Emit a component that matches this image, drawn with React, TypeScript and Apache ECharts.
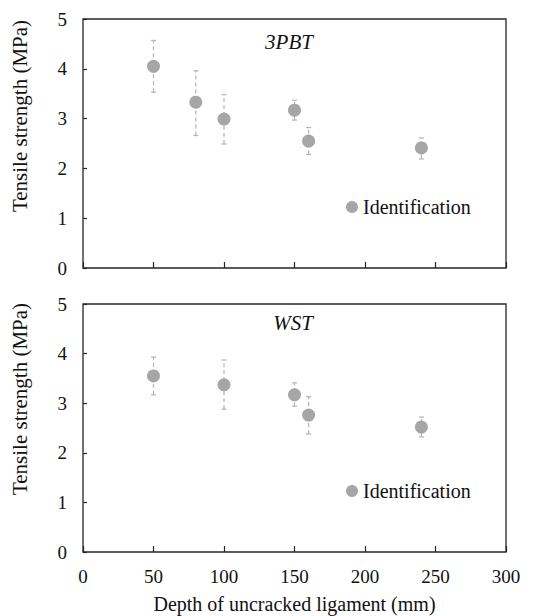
import React, { useEffect, useRef } from "react";
import * as echarts from "echarts";

// Panel 1: 3PBT
const depth3PBT = [50, 80, 100, 150, 160, 240];
const mean3PBT = [4.05, 3.33, 2.99, 3.17, 2.55, 2.41];
const low3PBT = [3.53, 2.66, 2.49, 2.97, 2.28, 2.19];
const high3PBT = [4.57, 3.96, 3.48, 3.37, 2.82, 2.61];

// Panel 2: WST
const depthWST = [50, 100, 150, 160, 240];
const meanWST = [3.55, 3.37, 3.17, 2.76, 2.52];
const lowWST = [3.17, 2.88, 2.94, 2.38, 2.32];
const highWST = [3.93, 3.87, 3.41, 3.13, 2.72];

const xTicks = [0, 50, 100, 150, 200, 250, 300];
const panelLabels = ["3PBT", "WST"];
const seriesName = "Identification";
const xTitle = "Depth of uncracked ligament (mm)";
const yTitle = "Tensile strength (MPa)";

const FONT = "'Liberation Serif', Tinos, 'Times New Roman', 'DejaVu Serif', serif";
const MARK = "#a6a6a6";
const ERR = "#b3b3b3";
const FRAME = "#262626";

function errData(x: number[], lo: number[], hi: number[]) {
  return x.map((v, i) => [v, lo[i], hi[i]]);
}

const renderErr = (params: any, api: any) => {
  const x = api.value(0);
  const lo = api.coord([x, api.value(1)]);
  const hi = api.coord([x, api.value(2)]);
  const style = { stroke: ERR, lineWidth: 1.2, lineDash: [4, 3] };
  const cap = 2.5;
  return {
    type: "group",
    children: [
      { type: "line", shape: { x1: lo[0], y1: lo[1], x2: hi[0], y2: hi[1] }, style },
      { type: "line", shape: { x1: hi[0] - cap, y1: hi[1], x2: hi[0] + cap, y2: hi[1] }, style: { stroke: ERR, lineWidth: 1.2 } },
      { type: "line", shape: { x1: lo[0] - cap, y1: lo[1], x2: lo[0] + cap, y2: lo[1] }, style: { stroke: ERR, lineWidth: 1.2 } },
    ],
  };
};

export default function App() {
  const ref = useRef<HTMLDivElement>(null);
  useEffect(() => {
    document.body.style.margin = "0";
    const chart = echarts.init(ref.current!, null, { renderer: "svg" });
    const grids = [
      { left: 83, top: 19, width: 423, height: 249 },
      { left: 83, top: 304, width: 423, height: 248 },
    ];
    const xAxis = [0, 1].map((i) => ({
      type: "value",
      gridIndex: i,
      min: 0,
      max: 300,
      interval: 50,
      axisLine: { show: false },
      axisTick: { show: true, inside: true, length: 6, lineStyle: { color: FRAME, width: 1.2 } },
      axisLabel: {
        show: i === 1,
        margin: 15,
        color: "#111",
        fontFamily: FONT,
        fontSize: 19,
        customValues: xTicks,
      },
      splitLine: { show: false },
      name: i === 1 ? xTitle : "",
      nameLocation: "middle",
      nameGap: 42,
      nameTextStyle: { color: "#111", fontFamily: FONT, fontSize: 20 },
    }));
    const yAxis = [0, 1].map((i) => ({
      type: "value",
      gridIndex: i,
      min: 0,
      max: 5,
      interval: 1,
      axisLine: { show: false },
      axisTick: { show: true, inside: true, length: 4, lineStyle: { color: FRAME, width: 1.2 } },
      axisLabel: { margin: 16, color: "#111", fontFamily: FONT, fontSize: 19 },
      splitLine: { show: false },
    }));
    const option: any = {
      animation: false,
      backgroundColor: "#fff",
      textStyle: { fontFamily: FONT },
      grid: grids.map((g) => ({ ...g, show: true, borderColor: FRAME, borderWidth: 1.3, backgroundColor: "transparent" })),
      xAxis,
      yAxis,
      legend: [0, 1].map((i) => ({
        left: 346,
        top: i === 0 ? 197 : 481,
        padding: 0,
        orient: "vertical",
        icon: "circle",
        itemWidth: 12,
        itemHeight: 12,
        data: [seriesName],
        textStyle: { color: "#111", fontFamily: FONT, fontSize: 20 },
        selectedMode: false,
      })),
      graphic: [
        { type: "text", x: 289, y: 42, style: { text: panelLabels[0], fontFamily: FONT, fontSize: 21, fontStyle: "italic", fill: "#111", align: "center", verticalAlign: "middle" } },
        { type: "text", x: 293, y: 323, style: { text: panelLabels[1], fontFamily: FONT, fontSize: 21, fontStyle: "italic", fill: "#111", align: "center", verticalAlign: "middle" } },
        { type: "text", x: 20, y: 116, rotation: Math.PI / 2, style: { text: yTitle, fontFamily: FONT, fontSize: 21, fill: "#111", align: "center", verticalAlign: "middle" } },
        { type: "text", x: 20, y: 399, rotation: Math.PI / 2, style: { text: yTitle, fontFamily: FONT, fontSize: 21, fill: "#111", align: "center", verticalAlign: "middle" } },
      ],
      series: [
        {
          type: "custom",
          xAxisIndex: 0,
          yAxisIndex: 0,
          renderItem: renderErr,
          data: errData(depth3PBT, low3PBT, high3PBT),
          encode: { x: 0, y: [1, 2] },
          z: 1,
        },
        {
          type: "custom",
          xAxisIndex: 1,
          yAxisIndex: 1,
          renderItem: renderErr,
          data: errData(depthWST, lowWST, highWST),
          encode: { x: 0, y: [1, 2] },
          z: 1,
        },
        {
          name: seriesName,
          type: "scatter",
          xAxisIndex: 0,
          yAxisIndex: 0,
          symbolSize: 13,
          itemStyle: { color: MARK, opacity: 1 },
          data: depth3PBT.map((x, i) => [x, mean3PBT[i]]),
          z: 3,
        },
        {
          name: seriesName,
          type: "scatter",
          xAxisIndex: 1,
          yAxisIndex: 1,
          symbolSize: 13,
          itemStyle: { color: MARK, opacity: 1 },
          data: depthWST.map((x, i) => [x, meanWST[i]]),
          z: 3,
        },
      ],
    };
    chart.setOption(option);
    return () => chart.dispose();
  }, []);
  return <div ref={ref} style={{ position: "absolute", left: 0, top: 0, width: 542, height: 616 }} />;
}
